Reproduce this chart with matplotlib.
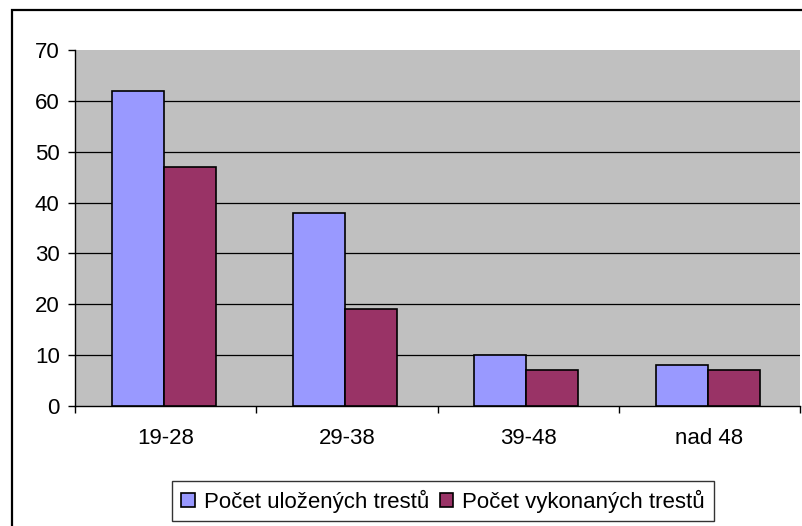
import numpy as np
import matplotlib
matplotlib.use("Agg")
import matplotlib.pyplot as plt
from matplotlib.patches import Rectangle

categories = ["19-28", "29-38", "39-48", "nad 48"]
ulozene = [62, 38, 10, 8]
vykonane = [47, 19, 7, 7]
series_names = ["Počet uložených trestů", "Počet vykonaných trestů"]
y_ticks = [0, 10, 20, 30, 40, 50, 60, 70]

plt.rcParams["font.family"] = ["Liberation Sans", "DejaVu Sans"]

W, H = 802, 526
fig = plt.figure(figsize=(W / 100, H / 100), dpi=100)

# outer chart frame (right/bottom edges fall off the picture)
fig.patches.append(Rectangle((12 / W, -0.1), 1.2, 1 - 10 / H + 0.1,
                             transform=fig.transFigure, fill=False,
                             edgecolor="black", linewidth=1.6))

ax = fig.add_axes([75 / W, (H - 406) / H, (800 - 75) / W, (406 - 50) / H])
ax.set_facecolor("#C0C0C0")

x = np.arange(len(categories))
bw = 0.287
ax.bar(x - bw / 2 - 0.01, ulozene, bw, color="#9999FF", edgecolor="black",
       linewidth=1.2, label=series_names[0], zorder=3)
ax.bar(x + bw / 2 - 0.01, vykonane, bw, color="#993366", edgecolor="black",
       linewidth=1.2, label=series_names[1], zorder=3)

ax.set_xlim(-0.5, len(categories) - 0.5)
ax.set_ylim(0, 70)
ax.set_yticks(y_ticks)
for yv in y_ticks[1:-1]:
    ax.axhline(yv, color="black", linewidth=0.9, zorder=1)

ax.set_xticks(x)
ax.set_xticklabels(categories)
ax.set_xticks(np.arange(-0.5, len(categories)), minor=True)
ax.tick_params(axis="x", which="major", length=0, pad=16, labelsize=16)
ax.tick_params(axis="x", which="minor", length=5, width=1, direction="out")
ax.tick_params(axis="y", length=5, width=1, direction="out", pad=6,
               labelsize=16)

for s in ["top", "right"]:
    ax.spines[s].set_visible(False)
ax.spines["left"].set_color("black")
ax.spines["bottom"].set_color("black")
ax.spines["left"].set_linewidth(1)
ax.spines["bottom"].set_linewidth(1)

leg = fig.legend(loc="center", bbox_to_anchor=(443 / W, 1 - 501 / H),
                 ncol=2, fontsize=16, frameon=True, fancybox=False,
                 edgecolor="black", handlelength=0.6, handleheight=0.6,
                 handletextpad=0.4, columnspacing=0.5, borderpad=0.4)
leg.get_frame().set_linewidth(1)

fig.savefig("out.png", dpi=100)
